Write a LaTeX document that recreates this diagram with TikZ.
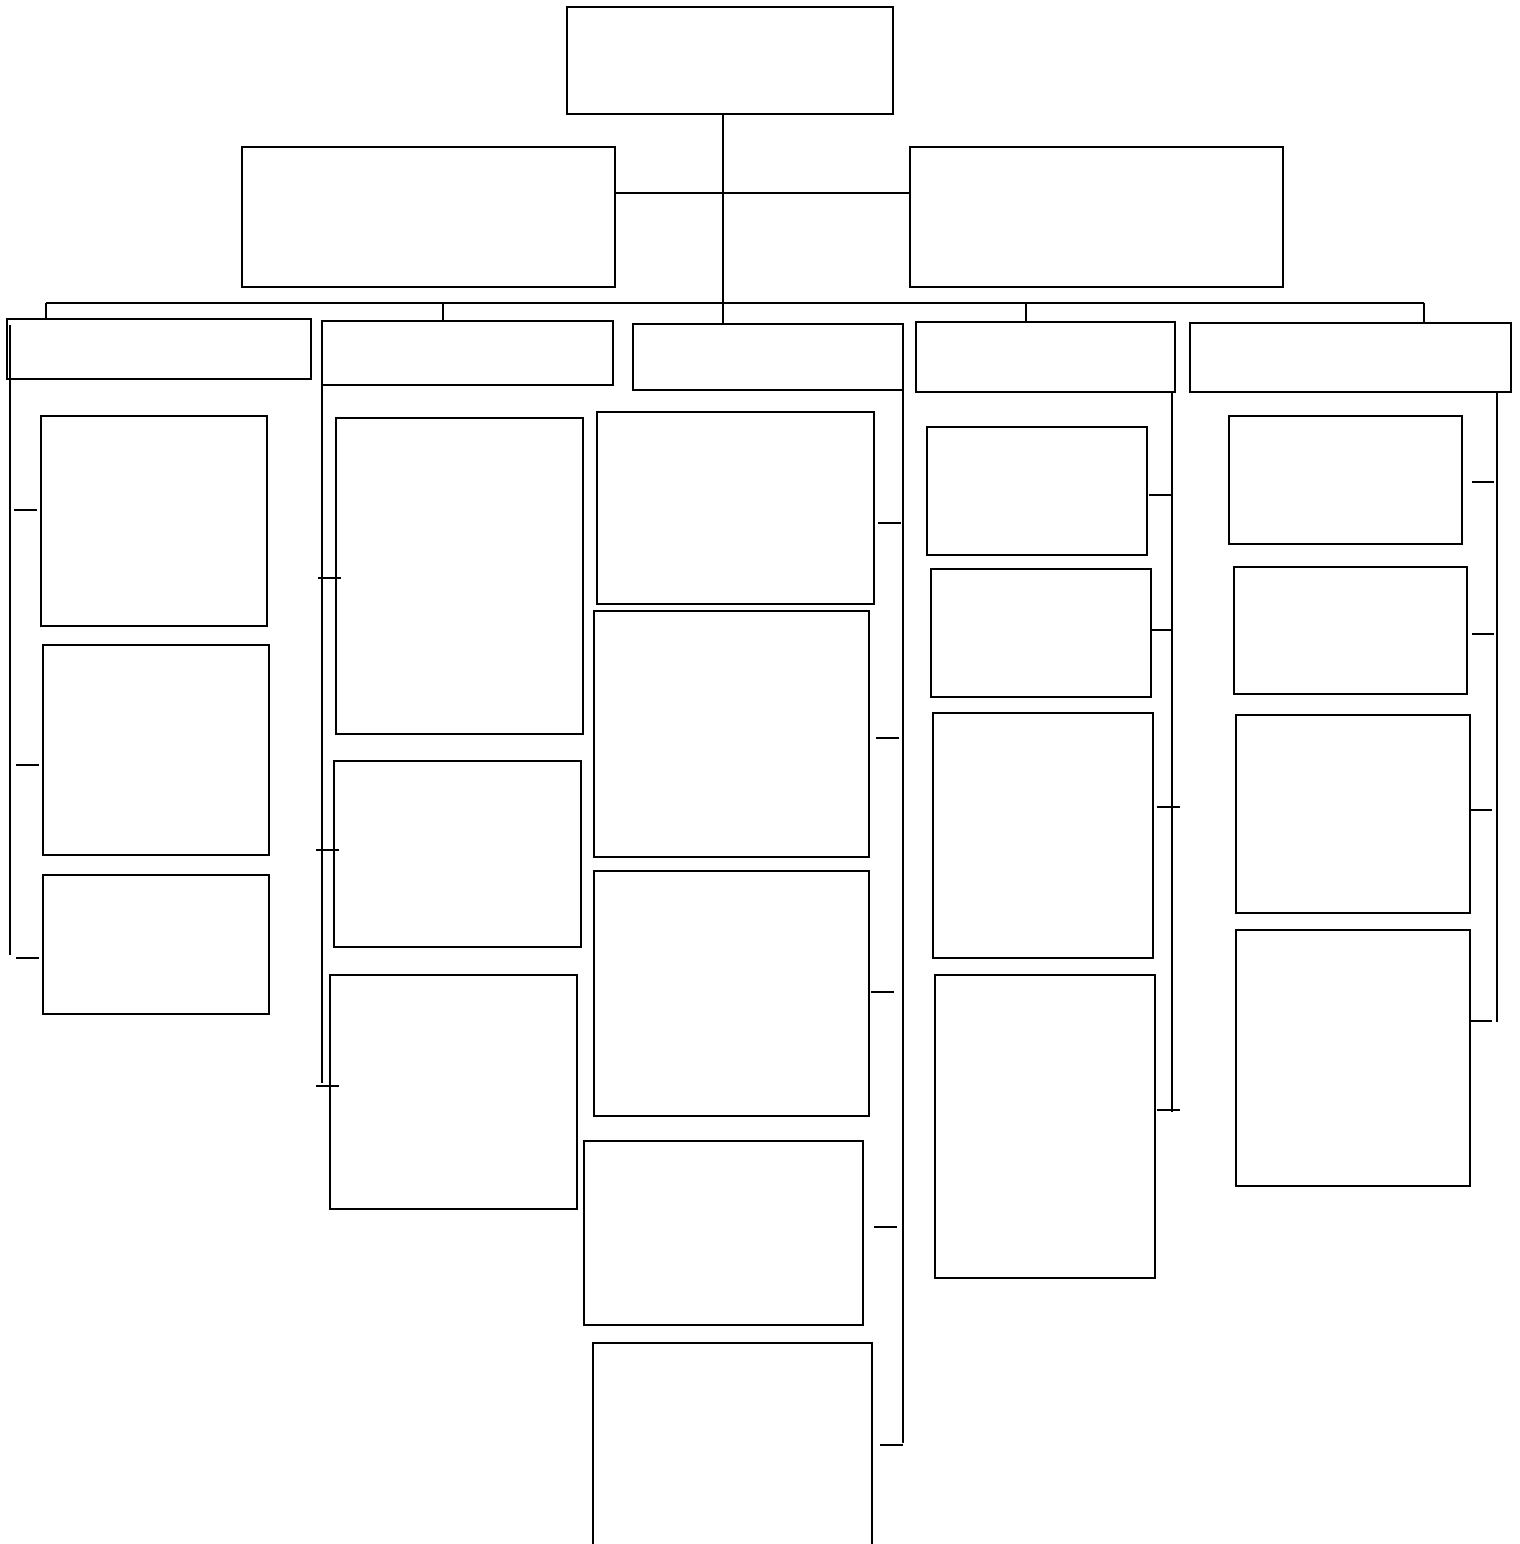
\documentclass[tikz,border=0pt]{standalone}
\usetikzlibrary{fit}
\begin{document}
\begin{tikzpicture}[x=0.02cm, y=-0.02cm,
    orgbox/.style={draw, rectangle, line width=1.1pt, inner sep=0pt, fit={#1}},
    conn/.style={line width=1.6pt}
]
\useasboundingbox (0,0) rectangle (1520,1544);
\clip (0,0) rectangle (1520,1544);

% --- top levels ---
\node[orgbox={(567,7) (893,114)}] (top) {};
\node[orgbox={(242,147) (615,287)}] (leftsub) {};
\node[orgbox={(910,147) (1283,287)}] (rightsub) {};

% --- department headers ---
\node[orgbox={(7,319) (311,379)}] (dept1) {};
\node[orgbox={(322,321) (613,385)}] (dept2) {};
\node[orgbox={(633,324) (903,390)}] (dept3) {};
\node[orgbox={(916,322) (1175,392)}] (dept4) {};
\node[orgbox={(1190,323) (1511,392)}] (dept5) {};

% --- column 1 ---
\node[orgbox={(41,416) (267,626)}] (c1a) {};
\node[orgbox={(43,645) (269,855)}] (c1b) {};
\node[orgbox={(43,875) (269,1014)}] (c1c) {};

% --- column 2 ---
\node[orgbox={(336,418) (583,734)}] (c2a) {};
\node[orgbox={(334,761) (581,947)}] (c2b) {};
\node[orgbox={(330,975) (577,1209)}] (c2c) {};

% --- column 3 ---
\node[orgbox={(597,412) (874,604)}] (c3a) {};
\node[orgbox={(594,611) (869,857)}] (c3b) {};
\node[orgbox={(594,871) (869,1116)}] (c3c) {};
\node[orgbox={(584,1141) (863,1325)}] (c3d) {};
\node[orgbox={(593,1343) (872,1570)}] (c3e) {};

% --- column 4 ---
\node[orgbox={(927,427) (1147,555)}] (c4a) {};
\node[orgbox={(931,569) (1151,697)}] (c4b) {};
\node[orgbox={(933,713) (1153,958)}] (c4c) {};
\node[orgbox={(935,975) (1155,1278)}] (c4d) {};

% --- column 5 ---
\node[orgbox={(1229,416) (1462,544)}] (c5a) {};
\node[orgbox={(1234,567) (1467,694)}] (c5b) {};
\node[orgbox={(1236,715) (1470,913)}] (c5c) {};
\node[orgbox={(1236,930) (1470,1186)}] (c5d) {};

% --- main trunk and bus ---
\coordinate (trunktop) at (723,114);
\coordinate (trunkbot) at (723,323);
\draw[conn] (trunktop) -- (trunkbot);
\draw[conn] (615,193) -- (910,193);
\draw[conn] (46,303) -- (1424,303);
\foreach \x/\y in {46/319, 443/322, 1026/323, 1424/323}
    \draw[conn] (\x,303) -- (\x,\y);

% --- column trunks ---
\draw[conn] (10,325) -- (10,955);
\draw[conn] (322,385) -- (322,1083);
\draw[conn] (903,390) -- (903,1443);
\draw[conn] (1172,392) -- (1172,1112);
\draw[conn] (1497,392) -- (1497,1022);

% --- ticks ---
\foreach \a/\b/\y in {14/37/510, 16/39/765, 16/39/958,
                      318/341/578, 316/339/850, 316/339/1086,
                      878/901/523, 876/899/738, 871/894/992, 874/897/1227, 880/903/1445,
                      1149/1172/495, 1151/1172/630, 1157/1180/807, 1157/1180/1110,
                      1472/1494/482, 1472/1494/634, 1470/1492/810, 1470/1492/1021}
    \draw[conn] (\a,\y) -- (\b,\y);

\end{tikzpicture}
\end{document}
